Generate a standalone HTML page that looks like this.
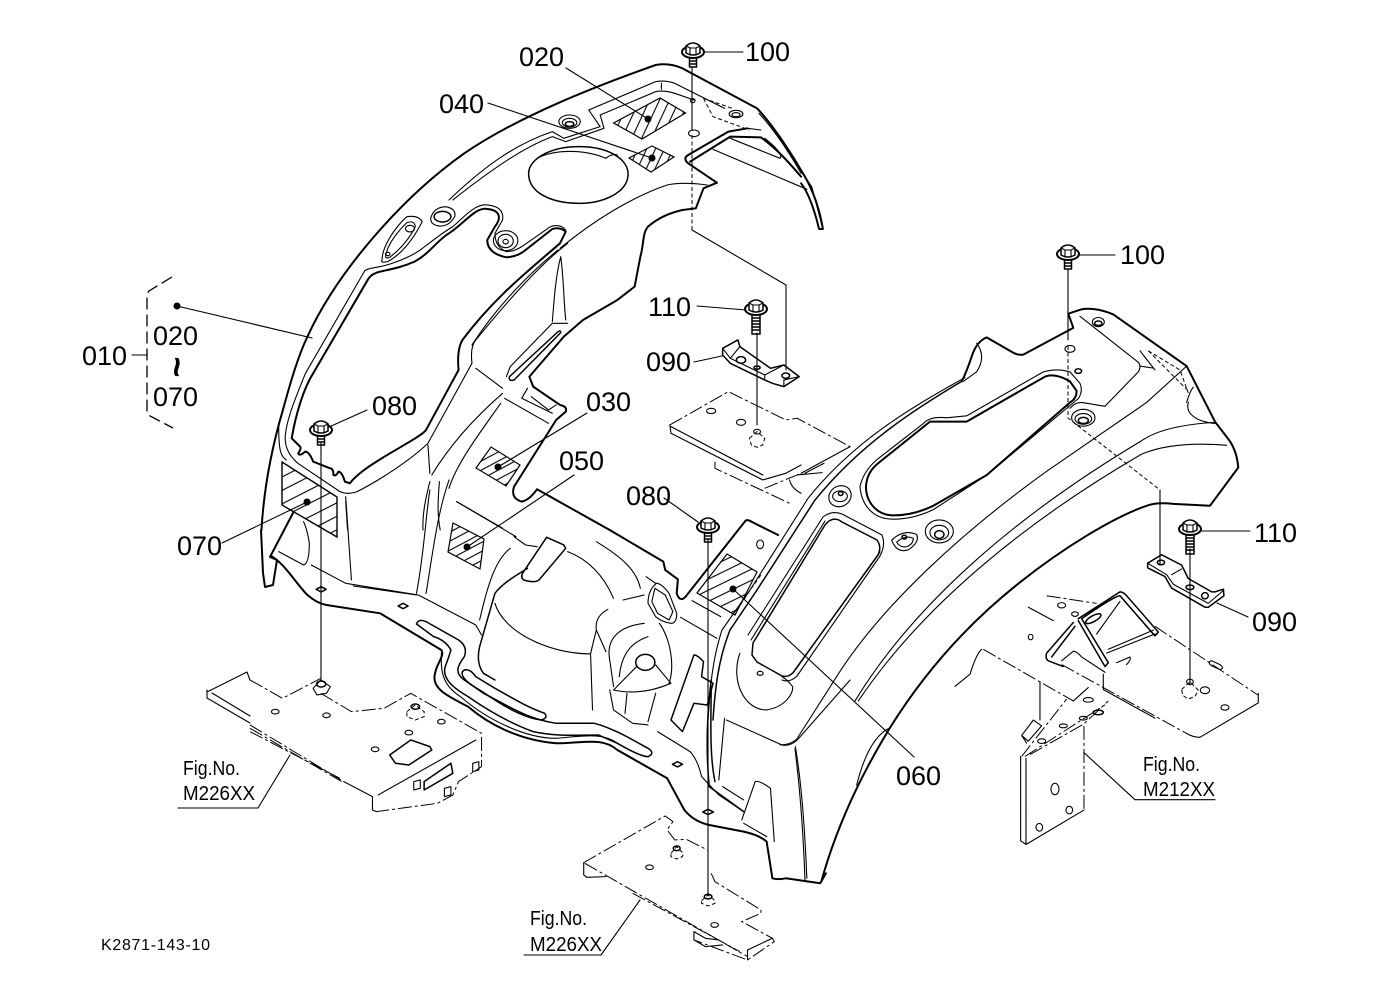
<!DOCTYPE html>
<html><head><meta charset="utf-8"><style>
html,body{margin:0;padding:0;background:#fff}
svg{display:block}
svg *{vector-effect:non-scaling-stroke}
.t{fill:none;stroke:#000;stroke-width:1.1;stroke-linejoin:round;stroke-linecap:round}
.m{fill:none;stroke:#000;stroke-width:1.5;stroke-linejoin:round;stroke-linecap:round}
.k{fill:none;stroke:#000;stroke-width:2;stroke-linejoin:round;stroke-linecap:round}
.d{fill:none;stroke:#000;stroke-width:1;stroke-dasharray:14 3 3 3}
.s{fill:none;stroke:#000;stroke-width:1;stroke-dasharray:4 2.5}
text{font-family:"Liberation Sans",sans-serif;fill:#000}
.l{font-size:27px}
.f{font-size:20px}
</style></head><body>
<svg width="1379" height="1001" viewBox="0 0 1379 1001" xmlns="http://www.w3.org/2000/svg">
<defs>
<pattern id="h1" width="9" height="40" patternUnits="userSpaceOnUse" patternTransform="rotate(25)"><line x1="1" y1="0" x2="1" y2="40" stroke="#000" stroke-width="1.1"/></pattern>
<pattern id="h2" width="8" height="40" patternUnits="userSpaceOnUse" patternTransform="rotate(25)"><line x1="1" y1="0" x2="1" y2="40" stroke="#000" stroke-width="1.1"/></pattern>
<pattern id="h3" width="8" height="40" patternUnits="userSpaceOnUse" patternTransform="rotate(62)"><line x1="1" y1="0" x2="1" y2="40" stroke="#000" stroke-width="1.1"/></pattern>
<pattern id="h4" width="12" height="40" patternUnits="userSpaceOnUse" patternTransform="rotate(63)"><line x1="1" y1="0" x2="1" y2="40" stroke="#000" stroke-width="1.1"/></pattern>
<pattern id="h5" width="10" height="40" patternUnits="userSpaceOnUse" patternTransform="rotate(64)"><line x1="1" y1="0" x2="1" y2="40" stroke="#000" stroke-width="1.1"/></pattern>
<g id="bs">
<ellipse cx="0" cy="2" rx="11" ry="6" class="k" style="fill:#fff"/>
<path class="m" style="fill:#fff" d="M-7,-4 Q0,-10 7,-4 L7,3 Q0,7 -7,3Z"/>
<path class="t" d="M-7,-4 L-3,-2 L3,-2 L7,-4 M-3,-2 L-3,5 M3,-2 L3,5"/>
<path class="m" d="M-3.5,8 L-3.5,17 L3.5,17 L3.5,8 M-3.5,11 L3.5,11 M-3.5,14 L3.5,14"/>
</g>
<g id="bl">
<ellipse cx="0" cy="2" rx="11" ry="6" class="k" style="fill:#fff"/>
<path class="m" style="fill:#fff" d="M-7,-4 Q0,-10 7,-4 L7,3 Q0,7 -7,3Z"/>
<path class="t" d="M-7,-4 L-3,-2 L3,-2 L7,-4 M-3,-2 L-3,5 M3,-2 L3,5"/>
<path class="m" d="M-4,8 L-4,27 L4,27 L4,8 M-4,11 L4,11 M-4,14 L4,14 M-4,17 L4,17 M-4,20 L4,20 M-4,23 L4,23"/>
</g>
</defs>

<!-- TOP / LEFT fender, zoom-1 coords -->
<g transform="translate(250,30) scale(.3827,.3333)">
<path class="k" d="M30,1500 C35,1400 50,1280 86,1140 C105,1060 125,980 150,920 C230,720 400,500 560,370 C700,260 900,170 1060,105 C1085,100 1110,105 1130,115 L1325,235 C1370,290 1420,380 1450,440 C1475,490 1490,550 1497,597 L1487,597 C1475,540 1460,490 1440,460"/>
<path class="k" d="M1220,458 L1145,400 Q1130,385 1145,375 L1250,305 L1300,295"/>
<path class="k" d="M1150,395 L1255,320 L1335,322 C1380,360 1410,400 1440,440"/>
<path class="t" d="M1210,358 L1455,478 M1255,325 L1385,385 Q1395,370 1345,325 M1330,250 C1370,300 1410,370 1440,430 M1300,295 L1335,300 M1442,426 L1468,471 L1497,597"/>
<path class="s" d="M1185,205 L1210,260 L1305,300 M1185,205 L1260,235"/>
<ellipse class="t" cx="1270" cy="252" rx="18" ry="11"/><ellipse class="t" cx="1270" cy="254" rx="11" ry="6"/>
<ellipse class="t" cx="1157" cy="212" rx="6" ry="6"/><ellipse class="t" cx="1160" cy="310" rx="14" ry="10"/>
<path class="t" d="M520,510 C620,400 700,340 790,305 L820,325 L915,290 L885,240 L1060,155 Q1085,150 1110,160 L1240,235"/>
<path class="t" d="M530,510 C640,410 720,350 790,320 L825,335 L925,295 L915,255 L1060,185 Q1080,180 1110,190 L1160,210 M1075,160 L1075,178"/>
<ellipse class="t" cx="835" cy="275" rx="28" ry="20"/><ellipse class="t" cx="835" cy="278" rx="19" ry="13"/><ellipse class="m" cx="835" cy="282" rx="11" ry="7"/>
<!-- big oval -->
<path class="m" d="M728,430 C728,390 780,350 860,350 C940,350 990,390 988,435 C985,490 920,520 860,520 C790,520 728,490 728,430Z"/>
<path class="t" d="M750,385 C800,355 880,360 930,385 Q945,370 960,375"/>
<!-- window -->
<path class="k" d="M109,1225 C120,1150 140,1080 160,1040 L310,745 Q320,730 340,725 C380,715 400,710 430,695 C470,670 490,630 520,610 C560,580 590,530 620,537 C650,540 660,560 640,590 L620,630 Q620,670 670,682 Q700,680 720,660 L790,597 Q810,590 825,605 L810,640 C730,720 640,800 555,930 Q540,960 545,1020 L460,1200 C440,1230 300,1300 261,1360 L248,1355 Q240,1325 231,1325 Q225,1340 218,1335 Q218,1315 209,1315 L187,1305 L165,1295 Q155,1265 144,1265 Q130,1280 126,1270 Q135,1255 131,1250 L109,1225"/>
<path class="t" d="M300,722 L145,1030 C120,1100 95,1170 92,1220 C90,1260 110,1285 125,1300 L235,1385 Q255,1395 280,1385 C340,1350 420,1290 465,1240 L580,1000 Q575,950 590,930 C640,860 740,720 830,640 M300,722 Q310,715 330,712 C370,705 420,680 445,660"/>
<path class="t" d="M445,660 C480,630 500,610 530,590 C560,560 590,520 620,525 Q665,530 660,570 L640,610 Q640,650 670,665 Q690,665 710,650 L785,590 Q810,580 825,600"/>
<!-- bosses along window -->
<path class="t" d="M345,690 C345,650 380,590 410,560 Q440,555 450,575 C430,620 400,670 360,695 Q340,700 345,690Z"/>
<path class="t" d="M355,675 C360,640 390,600 410,578 Q430,570 432,590 C415,630 390,660 365,682 Q352,688 355,675Z"/>
<ellipse class="t" cx="418" cy="596" rx="12" ry="10"/><ellipse class="t" cx="360" cy="672" rx="6" ry="5"/>
<path class="t" d="M472,565 Q480,532 510,530 Q540,535 535,560 Q520,590 495,588 Q472,585 472,565Z"/>
<ellipse class="m" cx="503" cy="560" rx="22" ry="16"/>
<ellipse class="t" cx="668" cy="632" rx="32" ry="30"/><ellipse class="t" cx="668" cy="633" rx="20" ry="20"/><ellipse class="t" cx="668" cy="635" rx="7" ry="7"/>
<!-- right thick edge -->
<path class="k" d="M1220,458 L1185,475 L1165,535 L1130,540 C1090,550 1060,570 1040,590 C1025,610 1030,640 1020,680 L1005,770 L960,810 L870,870 L820,920 L730,1040 L740,1070 L810,1125 Q830,1130 825,1145 L800,1170 L690,1370 Q680,1405 710,1415 Q730,1410 750,1378 L940,1500"/>
<path class="t" d="M810,655 C900,570 1000,500 1090,465 Q1130,455 1195,465"/>
<path class="t" d="M805,660 C740,720 650,820 580,945"/>
<path class="m" d="M812,908 L690,1050 Q675,1055 678,1040 L805,905 Q812,900 812,908Z"/>
<path class="t" d="M670,1040 L680,1010 L790,880 L830,880 M812,680 C800,730 795,800 790,875 M812,680 C820,750 820,820 825,870"/>
<path class="t" d="M725,1075 L710,1105 L790,1150 M735,1100 L780,1140 L800,1125"/>
<path class="t" d="M590,1015 L660,1075 M665,1105 L780,1180 M660,1090 C580,1170 520,1250 475,1335 M655,1120 C600,1210 540,1300 520,1375 M465,1245 L470,1330 M470,1355 C460,1400 450,1450 452,1500 M495,1355 C490,1420 490,1460 497,1500 M540,1415 L660,1495 M250,1415 L255,1500 M75,1190 C75,1260 80,1280 95,1290"/>
</g>

<!-- left lower edge, real coords -->
<path class="k" d="M261,530 L263,573 L265,587 L273,585 L277,560 L270,557 L293,513"/>

<!-- hatched labels -->
<g>
<polygon points="613.6,123 660,98 685.5,113 642,139" fill="url(#h1)" stroke="#000" stroke-width="1.2"/>
<polygon points="629,158 652,146 674,157 651,172" fill="url(#h2)" stroke="#000" stroke-width="1.2"/>
<polygon points="476,468 491,447 520,465 506,486" fill="url(#h3)" stroke="#000" stroke-width="1.2"/>
<polygon points="282,462 337,497 337,537 282,505" fill="url(#h4)" stroke="#000" stroke-width="1.4"/>
<polygon points="453,523 484,539 480,569 448,552" fill="url(#h3)" stroke="#000" stroke-width="1.2"/>
<polygon points="727,554 757,572 735,615 697,593" fill="url(#h5)" stroke="#000" stroke-width="1.2"/>
</g>

<!-- BOTTOM, zoom-2 coords -->
<g transform="translate(250,480) scale(.3827,.3333)">
<path class="k" d="M55,228 C90,250 120,310 150,345 Q175,370 200,375 L340,400 L500,510 C510,530 485,550 482,590 C480,630 520,650 570,680 C620,730 700,780 800,790 C870,790 920,770 960,810 L1090,895 L1135,990 Q1160,1025 1200,1035 L1290,1055 Q1330,1065 1350,1085 L1365,1195 Q1380,1200 1400,1195 L1490,1210 L1505,1180"/>
<path class="k" d="M940,150 L1080,245 L1085,270 L1118,298 L1115,340 Q1125,375 1145,340 L1295,122 Q1300,118 1310,125 L1380,165"/>
<path class="t" d="M75,215 L140,255 Q155,250 155,190 Q150,150 140,125 M160,255 L250,310 L440,345 L590,435 L605,465 M270,318 L435,345 M265,300 L250,50 M435,340 C455,220 460,100 470,30 M460,340 C480,200 490,100 520,0"/>
<!-- channel -->
<path class="m" d="M435,432 Q440,415 460,425 L545,480 Q570,500 560,530 C540,560 535,580 560,600 L610,640 C680,680 720,715 800,730 L900,730 C950,745 1000,780 1040,805 Q1060,820 1040,830 Q1020,830 960,790 L910,765 C850,765 800,770 740,755 C680,730 620,690 570,650 C540,630 500,600 510,560 Q520,530 525,510 Q510,480 480,470 L435,432"/>
<path class="m" d="M560,570 Q575,565 590,590 L640,625 C680,650 720,680 770,700 Q780,715 760,720 C700,710 640,660 600,630 C570,610 550,590 555,575Z"/>
<path class="t" d="M500,520 C500,560 495,610 550,650 C620,720 720,775 800,775 C860,770 920,755 960,790"/>
<!-- dome -->
<path class="m" d="M775,172 L820,195 L825,205 L755,300 Q745,310 715,300 Q705,290 715,275Z"/>
<path class="m" d="M725,265 C690,290 660,310 640,340 L600,500 Q590,550 610,580 L640,600"/>
<path class="t" d="M640,370 C660,450 770,520 890,522 M830,215 Q910,250 950,355 M905,185 C970,230 1010,270 1020,325 M1030,345 L975,360 M935,388 Q900,410 905,450 L890,520 M890,525 L895,690 M1030,430 C960,440 930,480 940,540 L950,620 M1040,470 C990,490 970,530 965,590 M1010,560 L950,630 C990,640 1040,640 1100,610 L1060,555 M1070,430 C1100,480 1110,560 1095,610 M985,640 L980,700 M1060,640 L1040,725 M940,630 L950,690 L1000,730 L1040,735 M905,450 L930,515 M690,170 L720,195 L750,200 M540,65 L695,170 M680,205 C640,240 620,320 600,420"/>
<ellipse class="m" cx="1033" cy="547" rx="25" ry="24"/>
<path class="t" d="M1062,310 Q1075,310 1095,340 L1115,400 Q1115,430 1100,430 Q1075,425 1060,410 L1040,370 Q1040,330 1062,310Z M1058,325 L1085,345 L1105,395 L1095,420 L1065,400 L1050,365Z M1035,290 L1060,310 M1155,362 L1230,410 M1125,412 L1220,475"/>
<path class="m" d="M1160,525 L1100,720 L1130,755 L1160,670 L1195,675 L1210,610 L1180,590 L1185,545 Q1170,525 1160,525Z"/>
<path class="t" d="M1065,755 L1150,815 Q1170,840 1180,890 L1225,945 L1290,995"/>
<!-- right fender lower -->
<path class="m" d="M1205,600 C1195,700 1190,800 1200,920 L1290,995 M1205,620 C1205,720 1200,820 1215,905"/>
<path class="t" d="M1280,520 C1255,600 1290,690 1350,690 C1400,680 1420,640 1418,620 Q1405,600 1390,590 M1240,715 L1225,900 M1245,720 L1390,795 Q1410,800 1430,780 L1568,600 M1425,800 C1440,900 1450,1050 1455,1195 M1235,920 L1290,960 M1285,1020 L1320,905 Q1330,900 1360,925 L1370,1085 M1290,1030 L1350,1070"/>
<ellipse class="t" cx="1333" cy="580" rx="8" ry="6"/>
<!-- diamonds on flange -->
<path class="m" d="M173,328 L186,320 L199,328 L186,336Z M387,378 L400,370 L413,378 L400,386Z M1104,853 L1117,845 L1130,853 L1117,861Z M1183,996 L1197,988 L1211,996 L1197,1004Z"/>
<!-- left plate -->
<path class="d" d="M0,600 L85,655 L185,595 M185,640 L265,695 L350,685 L420,640 L605,760 L605,860 L545,905 L530,945 L490,970 L330,995"/>
<path class="t" d="M330,995 L320,990 L320,950 L245,905 M335,945 L590,780"/>
<path class="d" d="M0,735 L245,905 M0,745 L240,905 M0,755 L235,895"/>
<ellipse class="t" cx="66" cy="695" rx="10" ry="7"/><ellipse class="t" cx="200" cy="706" rx="10" ry="7"/><ellipse class="t" cx="500" cy="725" rx="10" ry="7"/><ellipse class="t" cx="415" cy="758" rx="10" ry="7"/><ellipse class="t" cx="327" cy="808" rx="10" ry="7"/>
<path class="m" d="M365,825 L420,780 L470,800 L475,810 L415,855 L380,850Z"/>
<path class="m" d="M455,905 L525,850 L530,880 L455,930Z"/>
<path class="t" d="M428,905 L445,900 L445,925 L428,930Z M582,850 L598,845 L598,870 L582,875Z M508,925 L525,920 L525,945 L508,950Z"/>
<path class="t" d="M165,625 L185,600 L210,620 L200,640 L175,645Z"/><ellipse class="m" cx="186" cy="612" rx="12" ry="9"/>
<path class="s" d="M410,695 L432,675 L455,695 L455,710 L432,720 L410,710Z"/><ellipse class="m" cx="432" cy="680" rx="11" ry="8"/>
<!-- bottom plate -->
<path class="d" d="M872,1148 L1085,1008 L1105,1025 L1090,1050 L1110,1080 L1140,1078 L1195,1110 M1205,1180 L1215,1205 L1335,1290 L1335,1300 L1285,1325 L1365,1375 L1370,1385 L1300,1440 L1160,1380"/>
<path class="t" d="M872,1148 L872,1185 L880,1192 L930,1190 M1300,1440 L1300,1410 L1365,1375"/>
<path class="d" d="M875,1150 L1300,1430 M1000,1240 L1280,1415"/>
<path class="t" d="M1160,1355 L1160,1380 L1190,1400 L1235,1395 M1225,1380 L1190,1375 L1160,1355"/>
<ellipse class="t" cx="1044" cy="1162" rx="10" ry="7"/><ellipse class="t" cx="1214" cy="1335" rx="10" ry="7"/>
<path class="s" d="M1100,1120 L1115,1100 L1132,1120 L1130,1130 L1115,1137 L1100,1130Z"/><ellipse class="m" cx="1115" cy="1105" rx="9" ry="7"/>
<path class="s" d="M1180,1262 L1197,1245 L1215,1262 L1215,1270 L1197,1278 L1180,1270Z"/><ellipse class="m" cx="1197" cy="1250" rx="10" ry="7"/>
<!-- sticker 060 frame -->
<ellipse class="t" cx="1333" cy="193" rx="9" ry="13"/>
<path class="s" d="M1335,285 L1310,325 L1270,395"/>
</g>

<!-- fender front edge and small window, real coords -->
<path class="m" d="M815,500 L757,590 L730,630 C718,660 715,690 713,720"/>
<path class="t" d="M807,500 L750,590 L722,630 C712,660 710,690 708,720"/>
<path class="m" d="M753,643 L825,525 Q833,515 842,522 L877,540 Q882,547 878,555 L795,670 Q790,678 782,676 L757,662 L752,655Z"/>
<path class="t" d="M748,635 L823,517 Q832,510 842,514 L882,535 Q886,545 880,556 L797,676 Q790,683 782,680 M751,640 L825,521 M880,552 L793,673"/>

<!-- RIGHT fender, zoom-3 coords -->
<g transform="translate(780,280) scale(.3333,.3827)">
<path class="k" d="M125,1568 C180,1400 260,1270 330,1170 C430,1030 560,900 720,790 C850,700 1000,620 1100,590 Q1130,580 1180,585 L1290,590 L1375,490 Q1370,440 1340,410 L1305,370 L1220,225 L1000,90 C960,75 920,72 900,78 L865,88 L880,125 L730,195 Q715,197 700,190 L620,150 Q590,160 575,200 Q560,240 545,265"/>
<path class="m" d="M545,265 C400,340 240,430 105,575"/>
<path class="t" d="M555,255 C400,330 220,420 80,575"/>
<path class="t" d="M225,1100 C400,850 700,620 1085,420 Q1150,380 1305,372 M235,1100 C420,860 720,640 1085,455 Q1180,420 1340,432 M50,1200 L160,1050 C300,850 560,650 800,500 L1100,320 L1220,225 M0,1215 Q30,1215 50,1200 M230,1320 C250,1250 280,1190 330,1170 M45,1225 C60,1330 70,1450 75,1568"/>
<!-- big window -->
<path class="t" d="M240,540 Q250,500 290,470 L430,375 Q450,355 500,360 L560,355 L790,240 Q830,230 870,240 L900,270 Q910,290 895,310 L620,510 L460,600 Q400,625 340,625 C280,625 245,590 240,540Z"/>
<path class="k" d="M258,540 Q260,500 300,475 L450,370 L560,370 L790,255 Q820,240 870,265 L890,290 Q890,310 870,320 L620,510 L460,590 Q400,615 340,615 C290,615 258,580 258,540Z"/>
<!-- bosses -->
<ellipse class="t" cx="180" cy="565" rx="34" ry="27" transform="rotate(-15 180 565)"/><ellipse class="t" cx="180" cy="565" rx="22" ry="14"/><ellipse class="m" cx="182" cy="558" rx="7" ry="5"/>
<path class="t" d="M335,680 Q370,650 410,665 Q420,685 385,705 Q350,715 335,680Z M350,685 Q375,665 400,675 Q400,690 380,697 Q360,700 350,685Z"/>
<ellipse class="m" cx="373" cy="672" rx="7" ry="5"/>
<ellipse class="t" cx="478" cy="657" rx="42" ry="30"/><ellipse class="t" cx="478" cy="660" rx="28" ry="19"/><ellipse class="m" cx="478" cy="665" rx="14" ry="10"/>
<ellipse class="t" cx="910" cy="360" rx="35" ry="22"/><ellipse class="t" cx="910" cy="363" rx="25" ry="14"/><ellipse class="m" cx="910" cy="367" rx="15" ry="8"/>
<ellipse class="t" cx="955" cy="110" rx="18" ry="12"/><ellipse class="m" cx="955" cy="113" rx="11" ry="6"/>
<ellipse class="t" cx="870" cy="180" rx="15" ry="9"/><ellipse class="m" cx="895" cy="238" rx="10" ry="6"/>
<path class="t" d="M900,95 L1075,215 Q1085,225 1075,240 L975,330 L905,320 Q885,320 870,335 M1080,185 L1125,235 M1080,225 L1120,230 M1220,320 Q1230,290 1240,280 M1225,320 C1215,350 1250,370 1305,375 M590,165 Q620,200 590,240 L550,265"/>
<path class="s" d="M1105,185 L1225,290 M1105,185 L1200,235 L1225,295"/>
<!-- right bracket 090 -->
<path class="m" d="M1103,740 L1145,718 L1205,745 L1225,780 L1295,815 L1305,815 L1330,808 L1332,825 L1285,855 L1275,855 L1175,805 L1155,775 L1103,752Z"/>
<path class="t" d="M1103,740 L1160,770 L1180,795 L1285,845 L1332,810 M1175,770 L1205,755"/>
<ellipse class="m" cx="1143" cy="738" rx="11" ry="6"/><ellipse class="m" cx="1230" cy="803" rx="12" ry="6"/><ellipse class="m" cx="1275" cy="825" rx="10" ry="8"/>
<!-- M212 bracket -->
<path class="d" d="M800,825 L950,845"/>
<path class="t" d="M745,855 L820,890"/>
<ellipse class="t" cx="845" cy="850" rx="12" ry="7"/><ellipse class="t" cx="885" cy="873" rx="10" ry="6"/><ellipse class="t" cx="752" cy="933" rx="7" ry="7"/>
<path class="m" d="M895,885 L1020,815 Q1030,815 1040,825 L1135,920 L1125,930 L1020,825 Q1005,825 905,885 L985,1000 L975,1010 L895,890"/>
<path class="m" d="M880,895 L800,975 Q795,990 805,995 L850,1010 M885,905 L815,985"/>
<ellipse class="m" cx="940" cy="885" rx="25" ry="8" transform="rotate(-25 940 885)"/>
<path class="t" d="M950,925 L1020,840 M985,965 L1120,915 M980,975 L1125,925 M1010,1000 L1050,985 Q1055,990 1040,1005"/>
<path class="d" d="M1125,905 L1435,1085 M845,1005 L1220,1185"/>
<path class="t" d="M845,995 L880,970 Q890,970 905,985 L975,1025 M1435,1080 L1435,1105 L1260,1195 Q1240,1195 1220,1185"/>
<path class="t" d="M1295,995 L1320,1005 Q1335,1015 1320,1018 L1295,1008 Q1280,998 1295,995Z"/>
<ellipse class="t" cx="1275" cy="1072" rx="14" ry="9"/><ellipse class="t" cx="1335" cy="1117" rx="12" ry="7"/>
<path class="s" d="M1205,1070 L1230,1050 L1255,1072 L1245,1088 L1225,1095 L1208,1085Z"/><ellipse class="t" cx="1230" cy="1050" rx="10" ry="7"/>
<path class="d" d="M610,965 L880,1100"/>
<path class="t" d="M605,965 Q590,975 570,1030 L525,1062 M880,1100 L925,1065 M970,1030 L970,1070 L1125,1145 M780,1050 L780,1150"/>
<path class="t" d="M725,1190 L760,1150 L785,1165 L745,1205Z M725,1190 L740,1210"/>
<path class="d" d="M725,1245 L860,1095 M735,1245 L975,1110 M750,1240 L912,1160 L985,1100 M912,1165 L912,1385"/>
<path class="t" d="M722,1245 L722,1465 L738,1475 L912,1385 M738,1250 L738,1475"/>
<ellipse class="t" cx="825" cy="1330" rx="12" ry="15"/><ellipse class="t" cx="868" cy="1385" rx="10" ry="10"/><ellipse class="t" cx="778" cy="1430" rx="10" ry="10"/>
<ellipse class="t" cx="925" cy="1097" rx="15" ry="6"/><ellipse class="t" cx="910" cy="1145" rx="12" ry="5"/><ellipse class="t" cx="850" cy="1165" rx="12" ry="5"/><ellipse class="t" cx="785" cy="1205" rx="12" ry="6"/><ellipse class="m" cx="955" cy="1130" rx="15" ry="6"/>
<path class="t" d="M912,1235 L1065,1358 L1305,1358"/>
</g>

<!-- middle plate + left bracket, zoom-1 coords -->
<g transform="translate(250,30) scale(.3827,.3333)">
<path class="m" d="M1235,955 L1275,930 L1280,950 L1360,1015 L1395,1005 L1435,1040 L1395,1070 L1365,1060 L1345,1050 L1255,1000 L1235,975Z"/>
<path class="t" d="M1235,955 L1255,985 L1345,1035 L1345,1050 M1345,1035 L1395,1005 M1395,1070 L1395,1050 L1435,1040 M1255,985 L1280,950"/>
<ellipse class="m" cx="1283" cy="990" rx="12" ry="10"/><ellipse class="m" cx="1325" cy="1013" rx="8" ry="5"/><ellipse class="m" cx="1400" cy="1037" rx="10" ry="8"/>
<path class="d" d="M1097,1185 L1250,1085 L1400,1170 L1430,1165 L1568,1250"/>
<path class="t" d="M1097,1185 L1100,1210 L1340,1350 L1400,1330 L1440,1305 M1100,1190 L1340,1335"/>
<path class="d" d="M1215,1295 L1215,1315 L1410,1420 M1345,1375 L1440,1330"/>
<path class="t" d="M1440,1330 L1568,1250 M1450,1330 L1500,1300 M1410,1350 Q1415,1375 1440,1390 M1430,1335 L1495,1328"/>
<ellipse class="t" cx="1205" cy="1143" rx="12" ry="8"/><ellipse class="t" cx="1283" cy="1177" rx="12" ry="9"/>
<path class="s" d="M1305,1225 L1325,1205 L1345,1225 L1340,1245 L1325,1252 L1310,1245Z"/><ellipse class="t" cx="1325" cy="1205" rx="9" ry="7"/>
</g>

<!-- left plate tail -->
<path class="t" d="M207,692 L247,672 L250,680 M207,690 L207,698 L250,723"/>
<path class="t" d="M212,693 L250,716"/>
<path class="t" d="M290,755 L258,808 L178,808"/>
<path class="t" d="M640,900 L601,955 L524,955"/>

<!-- fastener lines -->
<path class="t" d="M692,68 L692,130 M692,230 L786,285 L786,370 M1068,270 L1068,340 M1160,490 L1160,565 M757,333 L757,425 M1190,549 L1190,685 M321,443 L321,680 M708,540 L708,895"/>
<path class="s" d="M692,135 L692,230 M1068,346 L1068,418 L1160,490"/>

<!-- bolts -->
<use href="#bs" x="693" y="50"/>
<use href="#bs" x="1068" y="252"/>
<use href="#bs" x="321" y="428"/>
<use href="#bs" x="708" y="525"/>
<use href="#bl" x="756" y="307"/>
<use href="#bl" x="1190" y="527"/>

<!-- leaders -->
<g class="t">
<line x1="566" y1="68" x2="648" y2="119"/>
<line x1="488" y1="103" x2="652" y2="158"/>
<line x1="587" y1="413" x2="498" y2="467"/>
<line x1="574" y1="475" x2="467" y2="547"/>
<line x1="222" y1="543" x2="307" y2="502"/>
<line x1="733" y1="589" x2="914" y2="757"/>
<line x1="177" y1="306" x2="312" y2="338"/>
<line x1="367" y1="410" x2="329" y2="427"/>
<line x1="664" y1="498" x2="698" y2="522"/>
<line x1="704" y1="52" x2="743" y2="52"/>
<line x1="1078" y1="255" x2="1115" y2="255"/>
<line x1="697" y1="306" x2="746" y2="310"/>
<line x1="694" y1="362" x2="722" y2="356"/>
<line x1="1201" y1="531" x2="1250" y2="531"/>
<line x1="1217" y1="603" x2="1248" y2="617"/>
<line x1="132" y1="355" x2="147" y2="355"/>
</g>
<g fill="#000">
<circle cx="648" cy="119" r="3.5"/><circle cx="652" cy="158" r="3.5"/><circle cx="498" cy="467" r="3.5"/><circle cx="307" cy="502" r="3.5"/><circle cx="467" cy="547" r="3.5"/><circle cx="733" cy="589" r="3.5"/><circle cx="177" cy="306" r="3.5"/>
</g>
<path d="M172,277 L149,291 L147,294 L147,413 L150,416 L173,428" fill="none" stroke="#000" stroke-width="1.3" stroke-dasharray="12 5"/>

<!-- labels -->
<text class="l" x="519" y="66">020</text>
<text class="l" x="439" y="113">040</text>
<text class="l" x="745" y="61">100</text>
<text class="l" x="1120" y="264">100</text>
<text class="l" x="648" y="316">110</text>
<text class="l" x="646" y="371">090</text>
<text class="l" x="586" y="411">030</text>
<text class="l" x="559" y="470">050</text>
<text class="l" x="372" y="415">080</text>
<text class="l" x="626" y="505">080</text>
<text class="l" x="177" y="555">070</text>
<text class="l" x="896" y="785">060</text>
<text class="l" x="1254" y="542">110</text>
<text class="l" x="1252" y="631">090</text>
<text class="l" x="82" y="365">010</text>
<text class="l" x="153" y="345">020</text>
<text transform="translate(165,367) rotate(90)" text-anchor="middle" font-size="36" font-weight="bold">~</text>
<text class="l" x="153" y="406">070</text>
<text class="f" x="183" y="775" textLength="57" lengthAdjust="spacingAndGlyphs">Fig.No.</text>
<text class="f" x="183" y="800" textLength="72" lengthAdjust="spacingAndGlyphs">M226XX</text>
<text class="f" x="530" y="925" textLength="57" lengthAdjust="spacingAndGlyphs">Fig.No.</text>
<text class="f" x="530" y="951" textLength="72" lengthAdjust="spacingAndGlyphs">M226XX</text>
<text class="f" x="1143" y="771" textLength="57" lengthAdjust="spacingAndGlyphs">Fig.No.</text>
<text class="f" x="1143" y="796" textLength="72" lengthAdjust="spacingAndGlyphs">M212XX</text>
<text x="101" y="950" font-size="16" textLength="109">K2871-143-10</text>
</svg>
</body></html>
